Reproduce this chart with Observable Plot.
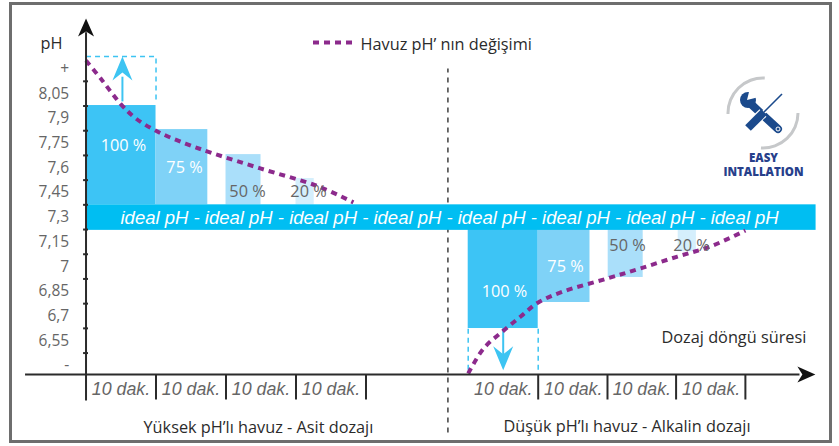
<!DOCTYPE html>
<html><head><meta charset="utf-8">
<script src="https://cdn.jsdelivr.net/npm/d3@7"></script>
<script src="https://cdn.jsdelivr.net/npm/@observablehq/plot@0.6"></script>
<style>html,body{margin:0;padding:0;background:#fff}svg{display:block}</style>
</head><body><div id="chart"></div>
<script>
// pH labels on the axis
const phValues = [8.2, 8.05, 7.9, 7.75, 7.6, 7.45, 7.3, 7.15, 7, 6.85, 6.7, 6.55, 6.4];
const phLabels = ["+", "8,05", "7,9", "7,75", "7,6", "7,45", "7,3", "7,15", "7", "6,85", "6,7", "6,55", "-"];
const phTicks = [8.125, 7.975, 7.825, 7.675, 7.525, 7.375, 7.225, 7.075, 6.925, 6.775, 6.625, 6.475];
// dosing bars (minutes, pH)
const barLabels = ["100 %", "75 %", "50 %", "20 %"];
const highStart = [0, 10, 20, 30];
const highEnd = [10, 17.4, 25, 32.6];
const highTop = [7.978, 7.832, 7.68, 7.535];
const lowStart = [54.6, 64.6, 74.6, 84.6];
const lowEnd = [64.6, 72, 79.6, 87.2];
const lowBottom = [6.624, 6.782, 6.934, 7.09];
const idealHigh = 7.375, idealLow = 7.225;
// pool pH curves
const highCurveT = [0, 2.1, 4.9, 7.1, 10.2, 14.2, 18.2, 24.9, 33, 38.2];
const highCurvePh = [8.251, 8.142, 7.99, 7.9, 7.82, 7.747, 7.687, 7.596, 7.49, 7.39];
const lowCurveT = [54.6, 56.8, 59.5, 62.1, 64.6, 68.2, 74.5, 79.2, 84.5, 89.2, 94.2];
const lowCurvePh = [6.351, 6.503, 6.606, 6.697, 6.782, 6.849, 6.928, 6.989, 7.061, 7.122, 7.219];
// time axis
const timeTicks = [0, 10, 20, 30, 40, 64.6, 74.5, 84.3, 94.2];
const timeLabelT = [5, 15, 25, 35, 59.6, 69.6, 79.4, 89.3];
const timeLabel = "10 dak.";
const baseline = 6.345;

const COLORS = ["#3dc4f5", "#7fd2f7", "#aadffa", "#d5effc"];
const textFont = "Open Sans", italicFont = "Liberation Sans";
const GRAY = "#666", DARK = "#2b2b2b", BLUE = "#3dc4f2", PURPLE = "#8c2a8c";

const bars = [
  ...barLabels.map((l, i) => ({x1: highStart[i], x2: highEnd[i], y1: idealHigh, y2: highTop[i], c: COLORS[i]})),
  ...barLabels.map((l, i) => ({x1: lowStart[i], x2: lowEnd[i], y1: idealLow, y2: lowBottom[i], c: COLORS[i]}))
];
const head = (pts) => ({draw(ctx, s) {
  const k = Math.sqrt(s / Math.PI) / 10;
  pts.forEach(([a, b], i) => i ? ctx.lineTo(a * k, b * k) : ctx.moveTo(a * k, b * k));
  ctx.closePath();
}});
const axisHead = head([[0, 0], [8, 18], [0, 13], [-8, 18]]);
const blueHead = head([[0, 0], [10, 24], [0, 16], [-10, 24]]);

// pixel-placed annotation relative to the frame's top-left (10,3)
const note = (s, px, py, o = {}) => Plot.text([s], {
  text: d => d, frameAnchor: "top-left", dx: px - 10, dy: py - 3, lineAnchor: "middle",
  textAnchor: "start", fontFamily: textFont, fontSize: 16.3, fill: DARK, ...o
});
const center = {textAnchor: "middle"};
const curveStyle = {stroke: PURPLE, strokeWidth: 4, strokeDasharray: "6,5", strokeLinecap: "butt", curve: "catmull-rom"};

function badge(index, scales, values, dim) {
  const g = d3.create("svg:g").attr("transform", "translate(763,113)");
  const arc = d3.arc().innerRadius(33.5).outerRadius(36.5);
  for (const [a, b] of [[-1.6, 0.05], [1.57, 3.2]]) {
    g.append("path").attr("fill", "#c6c8ca").attr("d", arc({startAngle: a, endAngle: b}));
  }
  const navy = "#1b4a8c";
  const w = g.append("g").attr("fill", "none").attr("stroke", navy);
  w.append("line").attr("x1", -11).attr("y1", -8).attr("x2", 15).attr("y2", 16).attr("stroke-width", 8).attr("stroke-linecap", "round");
  w.append("circle").attr("cx", -15).attr("cy", -13).attr("r", 8).attr("fill", navy).attr("stroke", "none");
  g.append("path").attr("fill", "#fff").attr("d", "M-16,-13 L-13,-25 L-2,-25 L-4,-16 Z");
  g.append("circle").attr("cx", 15).attr("cy", 16).attr("r", 2).attr("fill", "none").attr("stroke", "#fff").attr("stroke-width", 1);
  g.append("line").attr("x1", 19).attr("y1", -19).attr("x2", 0).attr("y2", 0).attr("stroke", "#fff").attr("stroke-width", 4);
  g.append("line").attr("x1", 0).attr("y1", 0).attr("x2", -16).attr("y2", 15).attr("stroke", "#fff").attr("stroke-width", 10);
  g.append("line").attr("x1", 19).attr("y1", -19).attr("x2", 1).attr("y2", -1).attr("stroke", navy).attr("stroke-width", 1.6);
  g.append("line").attr("x1", 1).attr("y1", -1).attr("x2", -15).attr("y2", 15).attr("stroke", navy).attr("stroke-width", 8);
  return g.node();
}

const plot = Plot.plot({
  width: 839, height: 446,
  marginLeft: 10, marginRight: 9, marginTop: 3, marginBottom: 5,
  x: {domain: [-10.79, 106.36], axis: null},
  y: {domain: [5.938, 8.5975], axis: null},
  style: {background: "#fff"},
  marks: [
    Plot.frame({stroke: "#6e6e6e", strokeWidth: 3}),
    Plot.ruleX([51.7], {y1: 5.99, y2: 8.2, stroke: "#555", strokeWidth: 1.7, strokeDasharray: "5,5"}),
    Plot.rect(bars, {x1: "x1", x2: "x2", y1: "y1", y2: "y2", fill: "c"}),
    Plot.rect([0], {x1: 0, x2: 104.3, y1: idealLow - 0.005, y2: idealHigh, fill: "#00bef2"}),
    // dashed target boxes
    Plot.line([[0, 8.275], [10, 8.275], [10, 8.0]], {x: "0", y: "1", stroke: BLUE, strokeWidth: 1.5, strokeDasharray: "5,4", strokeLinecap: "butt"}),
    Plot.ruleX([54.6, 64.6], {y1: 6.37, y2: 6.624, stroke: BLUE, strokeWidth: 1.5, strokeDasharray: "5,4"}),
    // blue arrows
    Plot.ruleX([5.2], {y1: 8.0, y2: 8.15, stroke: BLUE, strokeWidth: 2}),
    Plot.dot([0], {x: 5.2, y: 8.275, symbol: blueHead, r: 10, fill: BLUE, stroke: "none"}),
    Plot.ruleX([59.6], {y1: 6.624, y2: 6.45, stroke: BLUE, strokeWidth: 2}),
    Plot.dot([0], {x: 59.6, y: 6.37, symbol: blueHead, r: 10, rotate: 180, fill: BLUE, stroke: "none"}),
    // curves
    Plot.line(highCurveT, {x: d => d, y: (d, i) => highCurvePh[i], ...curveStyle}),
    Plot.line(lowCurveT, {x: d => d, y: (d, i) => lowCurvePh[i], ...curveStyle}),
    Plot.ruleY([8.361], {x1: 32.5, x2: 38.7, stroke: PURPLE, strokeWidth: 4, strokeDasharray: "6,5"}),
    // axes
    Plot.ruleY(phTicks, {x1: -0.35, x2: 0.35, stroke: DARK, strokeWidth: 2}),
    Plot.ruleX([0], {y1: 6.184, y2: 8.42, stroke: DARK, strokeWidth: 2}),
    Plot.ruleY([baseline], {x1: -8.64, x2: 102, stroke: DARK, strokeWidth: 2}),
    Plot.ruleX(timeTicks.slice(1), {y1: baseline, y2: 6.19, stroke: DARK, strokeWidth: 2}),
    Plot.dot([0], {x: 0, y: 8.506, symbol: axisHead, r: 10, fill: "#111", stroke: "none"}),
    Plot.dot([0], {x: 104.2, y: baseline, symbol: axisHead, r: 10, rotate: 90, fill: "#111", stroke: "none"}),
    // axis labels
    Plot.text(phLabels, {x: -2.4, y: (d, i) => phValues[i], text: d => d, textAnchor: "end", fontFamily: textFont, fontSize: 15.5, fill: GRAY}),
    Plot.text(timeLabelT, {x: d => d, y: 6.255, text: () => timeLabel, fontFamily: italicFont, fontStyle: "italic", fontSize: 17.8, fill: GRAY}),
    // band text
    note(Array(8).fill("ideal pH").join(" - "), 120, 217.5, {fontFamily: italicFont, fontStyle: "italic", fontSize: 18.5, fill: "#fff"}),
    // bar labels
    note(barLabels[0], 123, 145, {...center, fill: "#fff"}),
    note(barLabels[1], 184, 167, {...center, fill: "#fff"}),
    note(barLabels[2], 247, 191, {...center, fill: GRAY}),
    note(barLabels[3], 308, 191, {...center, fill: GRAY}),
    note(barLabels[0], 504, 291, {...center, fill: "#fff"}),
    note(barLabels[1], 565, 266, {...center, fill: "#fff"}),
    note(barLabels[2], 627, 245, {...center, fill: GRAY}),
    note(barLabels[3], 691, 245, {...center, fill: GRAY}),
    // titles
    note("pH", 40, 43),
    note("Havuz pH’ nın değişimi", 360, 44),
    note("Dozaj döngü süresi", 661, 337),
    note("Yüksek pH’lı havuz - Asit dozajı", 143, 427),
    note("Düşük pH’lı havuz - Alkalin dozajı", 503, 426),
    badge,
    note("EASY", 763, 158, {...center, fontWeight: 800, fontSize: 11.5, fill: "#27408b"}),
    note("INTALLATION", 763, 172, {...center, fontWeight: 800, fontSize: 11.5, fill: "#27408b"})
  ]
});
document.getElementById("chart").append(plot);
</script></body></html>
